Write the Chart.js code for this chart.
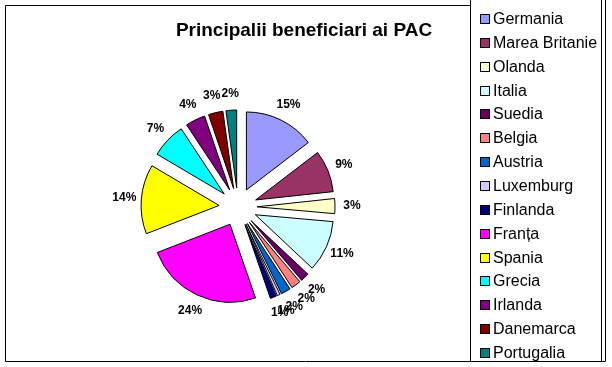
<!DOCTYPE html>
<html>
<head>
<meta charset="utf-8">
<title>Principalii beneficiari ai PAC</title>
<script src="https://cdn.jsdelivr.net/npm/chart.js@4.4.0/dist/chart.umd.min.js"></script>
<style>
  html, body { margin: 0; padding: 0; background: #fff; }
  #wrap { width: 612px; height: 367px; position: relative; }
</style>
</head>
<body>
<div id="wrap"><canvas id="pacChart" width="612" height="367"></canvas></div>
<script>
const chartTitle = 'Principalii beneficiari ai PAC';
const countries = ['Germania', 'Marea Britanie', 'Olanda', 'Italia', 'Suedia', 'Belgia', 'Austria',
  'Luxemburg', 'Finlanda', 'Franța', 'Spania', 'Grecia', 'Irlanda', 'Danemarca', 'Portugalia'];
const shares = [14.6, 8.7, 3.1, 10.6, 1.8, 2.0, 2.0, 0.6, 1.3, 24.4, 14.4, 7.2, 4.1, 3.0, 2.2];
const sliceColors = ['#9999FF', '#993366', '#FFFFCC', '#CCFFFF', '#660066', '#FF8080', '#0066CC',
  '#CCCCFF', '#000080', '#FF00FF', '#FFFF00', '#00FFFF', '#800080', '#800000', '#008080'];

const PIE_RADIUS = 78;
const EXPLODE = 19;
const LABEL_DIST = 114;
const FONT = 'Arial, "Liberation Sans", sans-serif';

const pacDecor = {
  id: 'pacDecor',
  // excel style explosion: move every wedge out along its middle angle,
  // the built-in offset narrows thin slices too much
  beforeDatasetsDraw(chart) {
    const area = chart.chartArea;
    const cx = (area.left + area.right) / 2;
    const cy = (area.top + area.bottom) / 2;
    chart.getDatasetMeta(0).data.forEach((arc) => {
      const mid = (arc.startAngle + arc.endAngle) / 2;
      arc.x = cx + Math.cos(mid) * EXPLODE;
      arc.y = cy + Math.sin(mid) * EXPLODE;
    });
  },
  afterDraw(chart) {
    const ctx = chart.ctx;
    const area = chart.chartArea;
    const cx = (area.left + area.right) / 2;
    const cy = (area.top + area.bottom) / 2;
    ctx.save();

    // outer frame and legend box
    ctx.strokeStyle = '#000';
    ctx.lineWidth = 1;
    ctx.beginPath();
    ctx.moveTo(470.5, 5.5);
    ctx.lineTo(5.5, 5.5);
    ctx.lineTo(5.5, 361.5);
    ctx.lineTo(605.5, 361.5);
    ctx.lineTo(605.5, 0);
    ctx.moveTo(470.5, 0);
    ctx.lineTo(470.5, 361.5);
    ctx.moveTo(601.5, 0);
    ctx.lineTo(601.5, 361.5);
    ctx.stroke();

    // title
    ctx.fillStyle = '#000';
    ctx.font = 'bold 19px ' + FONT;
    ctx.textAlign = 'center';
    ctx.textBaseline = 'alphabetic';
    ctx.fillText(chartTitle, 304, 36);

    // legend
    ctx.font = '16px ' + FONT;
    ctx.textAlign = 'left';
    ctx.textBaseline = 'middle';
    chart.data.labels.forEach((name, i) => {
      const y = Math.round(19 + i * 23.86);
      ctx.fillStyle = sliceColors[i];
      ctx.fillRect(480, y - 5, 10, 10);
      ctx.strokeRect(480.5, y - 4.5, 9, 9);
      ctx.fillStyle = '#000';
      ctx.fillText(name, 493, y + 1);
    });

    // percentage labels
    const meta = chart.getDatasetMeta(0);
    const total = shares.reduce((a, b) => a + b, 0);
    ctx.font = 'bold 12px ' + FONT;
    ctx.textAlign = 'center';
    meta.data.forEach((arc, i) => {
      const mid = (arc.startAngle + arc.endAngle) / 2;
      const x = cx + Math.cos(mid) * LABEL_DIST;
      const y = cy + Math.sin(mid) * LABEL_DIST;
      ctx.fillText(Math.round(shares[i] / total * 100) + '%', x, y);
    });

    ctx.restore();
  }
};

new Chart(document.getElementById('pacChart'), {
  type: 'pie',
  data: {
    labels: countries,
    datasets: [{
      data: shares,
      backgroundColor: sliceColors,
      borderColor: '#000',
      borderWidth: 1
    }]
  },
  options: {
    responsive: false,
    animation: false,
    events: [],
    radius: PIE_RADIUS,
    layout: { padding: { left: 10, right: 146, top: 57, bottom: 10 } },
    plugins: {
      legend: { display: false },
      title: { display: false },
      tooltip: { enabled: false }
    }
  },
  plugins: [pacDecor]
});
</script>
</body>
</html>
